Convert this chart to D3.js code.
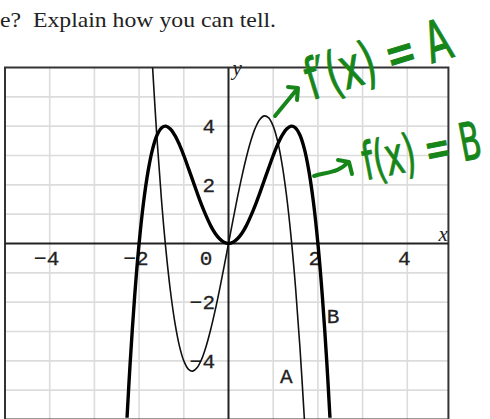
<!DOCTYPE html>
<head>
  <meta charset="utf-8">
  <script src="https://d3js.org/d3.v7.min.js"></script>
  <style>
    body { margin:0; background:#fff; }
    .grid { stroke:#dcdcdc; stroke-width:1.6px; }
    .tick { font-family:"Liberation Mono", monospace; font-size:21px; fill:#222; stroke:#222; stroke-width:0.3px; }
    .note { font-family:"DejaVu Sans", sans-serif; fill:#17861a; stroke:#17861a; stroke-width:0.8px; }
    .arrow { fill:none; stroke:#17861a; stroke-width:4px; stroke-linecap:round; stroke-linejoin:round; }
  </style>
</head>
<body>
  <script>
    // values
    var xTicks = [-4, -2, 0, 2, 4];
    var yTicks = [4, 2, -2, -4];
    var gridX = [-4, -3, -2, -1, 1, 2, 3, 4];
    var gridY = [-5, -4, -3, -2, -1, 1, 2, 3, 4, 5];

    // curve B (thick)
    var curveBx = [-2.27, -2.2, -2.1, -2.0, -1.9, -1.8, -1.7, -1.6, -1.5, -1.4, -1.3, -1.2, -1.1, -1.0, -0.9, -0.8, -0.7, -0.6, -0.5, -0.4, -0.3, -0.2, -0.1, 0,
                   0.1, 0.2, 0.3, 0.4, 0.5, 0.6, 0.7, 0.8, 0.9, 1.0, 1.1, 1.2, 1.3, 1.4, 1.5, 1.6, 1.7, 1.8, 1.9, 2.0, 2.1, 2.2, 2.27];
    var curveBy = [-5.94, -4.07, -1.81, 0, 1.41, 2.46, 3.21, 3.69, 3.94, 4.0, 3.9, 3.69, 3.38, 3.0, 2.58, 2.15, 1.72, 1.31, 0.94, 0.61, 0.35, 0.16, 0.04, 0,
                   0.04, 0.16, 0.35, 0.61, 0.94, 1.31, 1.72, 2.15, 2.58, 3.0, 3.38, 3.69, 3.9, 4.0, 3.94, 3.69, 3.21, 2.46, 1.41, 0, -1.81, -4.07, -5.94];

    // curve A (thin)
    var curveAx = [-1.7, -1.6, -1.5, -1.4, -1.3, -1.2, -1.1, -1.0, -0.9, -0.8, -0.7, -0.6, -0.5, -0.4, -0.3, -0.2, -0.1, 0,
                   0.1, 0.2, 0.3, 0.4, 0.5, 0.6, 0.7, 0.8, 0.9, 1.0, 1.1, 1.2, 1.3, 1.4, 1.5, 1.6, 1.7];
    var curveAy = [6.05, 3.58, 1.5, -0.22, -1.61, -2.69, -3.48, -4.0, -4.28, -4.35, -4.23, -3.94, -3.5, -2.94, -2.29, -1.57, -0.8, 0,
                   0.8, 1.57, 2.29, 2.94, 3.5, 3.94, 4.23, 4.35, 4.28, 4.0, 3.48, 2.69, 1.61, 0.22, -1.5, -3.58, -6.05];

    var svg = d3.select("body")
      .append("svg")
      .attr("width", 490)
      .attr("height", 419);

    var x = d3.scaleLinear().domain([-5, 5]).range([5, 452]);
    var y = d3.scaleLinear().domain([-6, 6]).range([419.5, 67.5]);

    var pLeft = x(-5), pRight = x(4.92), pTop = y(6), pBottom = y(-6);

    svg.append("text")
      .attr("x", 0).attr("y", 27)
      .attr("textLength", 276).attr("lengthAdjust", "spacingAndGlyphs")
      .style("font-family", "'Liberation Serif', serif")
      .style("font-size", "22px")
      .style("fill", "#222")
      .text("e?\u00a0 Explain how you can tell.");

    svg.append("clipPath").attr("id", "plot")
      .append("rect")
      .attr("x", pLeft).attr("y", pTop)
      .attr("width", pRight - pLeft).attr("height", pBottom - pTop);

    svg.selectAll(".gx").data(gridX).enter().append("line")
      .attr("class", "grid")
      .attr("x1", function(d) { return x(d); }).attr("x2", function(d) { return x(d); })
      .attr("y1", pTop).attr("y2", pBottom);

    svg.selectAll(".gy").data(gridY).enter().append("line")
      .attr("class", "grid")
      .attr("y1", function(d) { return y(d); }).attr("y2", function(d) { return y(d); })
      .attr("x1", pLeft).attr("x2", pRight);

    // frame
    svg.append("rect")
      .attr("x", pLeft).attr("y", pTop)
      .attr("width", pRight - pLeft).attr("height", pBottom - pTop)
      .style("fill", "none").style("stroke", "#333").style("stroke-width", 2);

    // axes
    svg.append("line").attr("x1", pLeft).attr("x2", pRight)
      .attr("y1", y(0)).attr("y2", y(0))
      .style("stroke", "#222").style("stroke-width", 2);
    svg.append("line").attr("x1", x(0)).attr("x2", x(0))
      .attr("y1", pTop).attr("y2", pBottom)
      .style("stroke", "#222").style("stroke-width", 2);

    // tick labels
    svg.selectAll(".xl").data(xTicks).enter().append("text")
      .attr("class", "tick")
      .attr("x", function(d) { return d == 0 ? x(-0.5) : x(d) - 3; })
      .attr("y", y(-0.5) + 7)
      .attr("text-anchor", "middle")
      .text(function(d) { return d < 0 ? "\u2212" + Math.abs(d) : d; });

    svg.selectAll(".yl").data(yTicks).enter().append("text")
      .attr("class", "tick")
      .attr("x", x(-0.3))
      .attr("y", function(d) { return y(d) + 7; })
      .attr("text-anchor", "end")
      .text(function(d) { return d < 0 ? "\u2212" + Math.abs(d) : d; });

    svg.append("text").attr("x", x(0) + 4).attr("y", y(5.75))
      .style("font-family", "'Liberation Serif', serif").style("font-style", "italic")
      .style("font-size", "21px").style("fill", "#222").text("y");
    svg.append("text").attr("x", x(4.7)).attr("y", y(0.1))
      .style("font-family", "'Liberation Serif', serif").style("font-style", "italic")
      .style("font-size", "21px").style("fill", "#222").text("x");

    var line = d3.line().curve(d3.curveCatmullRom)
      .x(function(d) { return x(d[0]); })
      .y(function(d) { return y(d[1]); });

    var g = svg.append("g").attr("clip-path", "url(#plot)");
    g.append("path")
      .datum(d3.zip(curveAx, curveAy))
      .attr("d", line)
      .style("fill", "none").style("stroke", "#111").style("stroke-width", 1.6);
    g.append("path")
      .datum(d3.zip(curveBx, curveBy))
      .attr("d", line)
      .style("fill", "none").style("stroke", "#000").style("stroke-width", 3.4);

    svg.append("text").attr("class", "tick").attr("x", x(1.15)).attr("y", y(-4.75)).text("A");
    svg.append("text").attr("class", "tick").attr("x", x(2.2)).attr("y", y(-2.7)).text("B");

    // green handwriting
    svg.append("text").attr("class", "note")
      .attr("transform", "translate(312,100) rotate(-17) scale(1,1.35)")
      .attr("textLength", 150).attr("lengthAdjust", "spacingAndGlyphs")
      .style("font-size", "42px")
      .text("f\u2032(x) = A");
    svg.append("text").attr("class", "note")
      .attr("transform", "translate(366,180) rotate(-11) scale(1,1.3)")
      .attr("textLength", 120).attr("lengthAdjust", "spacingAndGlyphs")
      .style("font-size", "40px")
      .text("f(x) = B");

    svg.append("path").attr("class", "arrow")
      .attr("d", "M275,116 L298,88 M288,87 L298,88 L297,100");
    svg.append("path").attr("class", "arrow")
      .attr("d", "M314,176 C328,172 340,172 348,162 M338,160 L349,162 L352,174");
  </script>
</body>
